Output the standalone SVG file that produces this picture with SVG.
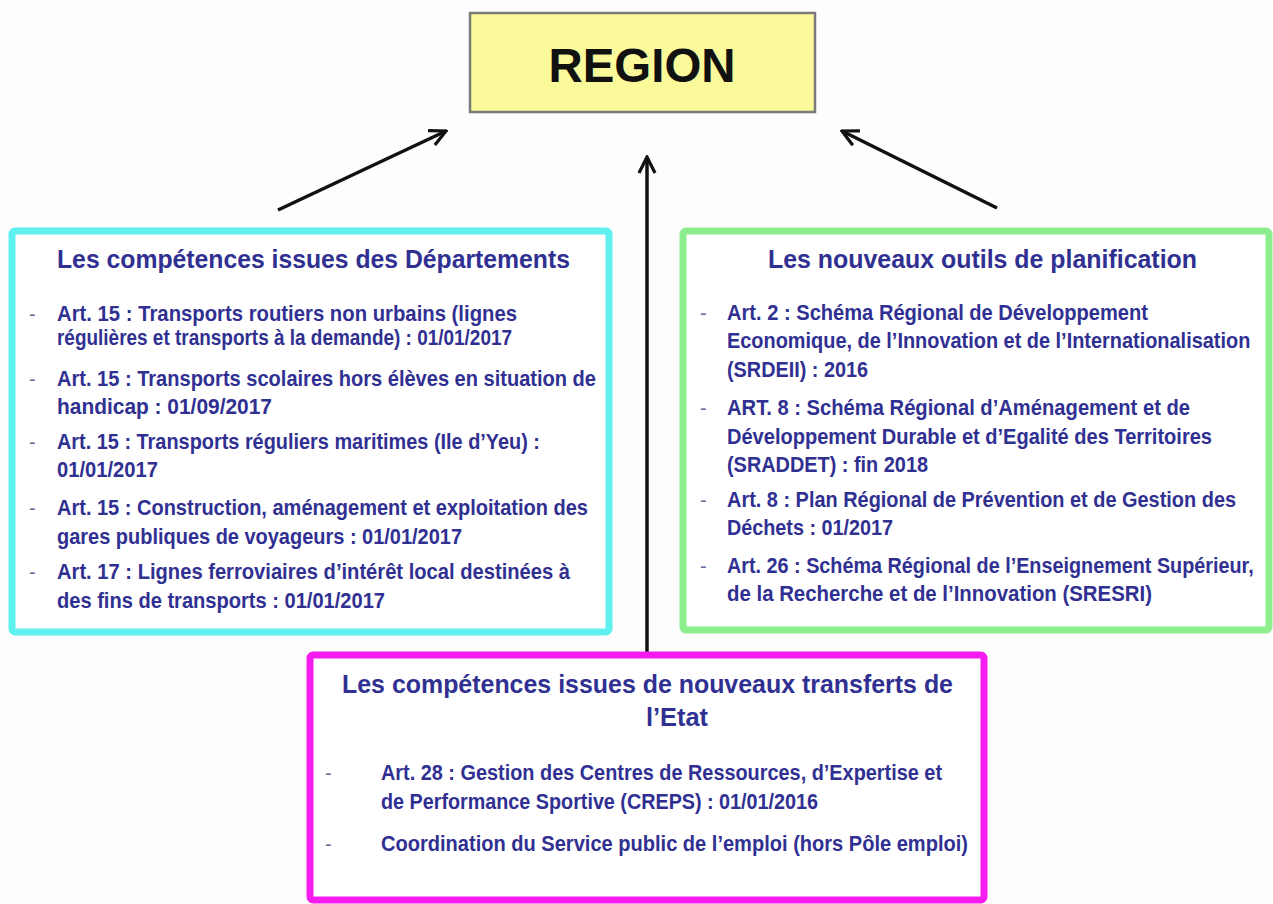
<svg xmlns="http://www.w3.org/2000/svg" width="1273" height="904" viewBox="0 0 1273 904">
<style>
.t{font-family:"Liberation Sans",Arial,sans-serif;font-size:26px;font-weight:bold;fill:#303092;}
.b{font-family:"Liberation Sans",Arial,sans-serif;font-size:22.5px;font-weight:bold;fill:#303092;}
.d{font-family:"Liberation Sans",Arial,sans-serif;font-size:20px;fill:#6a6a9a;}
.conn{stroke:#111;stroke-width:3.5;fill:none;}
</style>
<defs>
<marker id="ah" viewBox="0 0 12 12" refX="11" refY="6" markerWidth="5.5" markerHeight="5.5" orient="auto" markerUnits="strokeWidth">
<path d="M1,1 L11,6 L1,11" fill="none" stroke="#111" stroke-width="2"/>
</marker>
</defs>
<rect width="1273" height="904" fill="#fdfdfd"/>

<g id="connectors">
<line class="conn" x1="278" y1="210" x2="446" y2="131" marker-end="url(#ah)"/>
<line class="conn" x1="647" y1="656" x2="647" y2="157" marker-end="url(#ah)"/>
<line class="conn" x1="997" y1="208" x2="842" y2="131" marker-end="url(#ah)"/>
</g>

<g id="region">
<rect x="470" y="13" width="345" height="99" fill="#fafa9a" stroke="#7a7a7a" stroke-width="2.5"/>
<text x="642" y="82" text-anchor="middle" font-family="Liberation Sans,Arial,sans-serif" font-size="48" font-weight="bold" fill="#111" textLength="187" lengthAdjust="spacingAndGlyphs">REGION</text>
</g>

<g id="departements">
<rect x="12" y="231" width="597" height="401" rx="3" fill="#fff" stroke="#5ff0f0" stroke-width="7"/>
<text class="t" x="57" y="268" textLength="513" lengthAdjust="spacingAndGlyphs">Les compétences issues des Départements</text>
<text class="d" x="29" y="321">-</text>
<text class="b" x="57" y="321" textLength="460" lengthAdjust="spacingAndGlyphs">Art. 15 : Transports routiers non urbains (lignes</text>
<text class="b" x="57" y="345" textLength="455" lengthAdjust="spacingAndGlyphs">régulières et transports à la demande) : 01/01/2017</text>
<text class="d" x="29" y="386">-</text>
<text class="b" x="57" y="386" textLength="539" lengthAdjust="spacingAndGlyphs">Art. 15 : Transports scolaires hors élèves en situation de</text>
<text class="b" x="57" y="414" textLength="215" lengthAdjust="spacingAndGlyphs">handicap : 01/09/2017</text>
<text class="d" x="29" y="449">-</text>
<text class="b" x="57" y="449" textLength="483" lengthAdjust="spacingAndGlyphs">Art. 15 : Transports réguliers maritimes (Ile d’Yeu) :</text>
<text class="b" x="57" y="477" textLength="101" lengthAdjust="spacingAndGlyphs">01/01/2017</text>
<text class="d" x="29" y="515">-</text>
<text class="b" x="57" y="515" textLength="531" lengthAdjust="spacingAndGlyphs">Art. 15 : Construction, aménagement et exploitation des</text>
<text class="b" x="57" y="544" textLength="405" lengthAdjust="spacingAndGlyphs">gares publiques de voyageurs : 01/01/2017</text>
<text class="d" x="29" y="579">-</text>
<text class="b" x="57" y="579" textLength="513" lengthAdjust="spacingAndGlyphs">Art. 17 : Lignes ferroviaires d’intérêt local destinées à</text>
<text class="b" x="57" y="608" textLength="328" lengthAdjust="spacingAndGlyphs">des fins de transports : 01/01/2017</text>
</g>

<g id="planification">
<rect x="683" y="231" width="586" height="399" rx="3" fill="#fff" stroke="#8cee8c" stroke-width="7"/>
<text class="t" x="768" y="268" textLength="429" lengthAdjust="spacingAndGlyphs">Les nouveaux outils de planification</text>
<text class="d" x="700" y="320">-</text>
<text class="b" x="727" y="320" textLength="421" lengthAdjust="spacingAndGlyphs">Art. 2 : Schéma Régional de Développement</text>
<text class="b" transform="translate(727,348) scale(0.84,1)" x="0" y="0" textLength="623" lengthAdjust="spacingAndGlyphs">Economique, de l’Innovation et de l’Internationalisation</text>
<text class="b" x="727" y="377" textLength="141" lengthAdjust="spacingAndGlyphs">(SRDEII) : 2016</text>
<text class="d" x="700" y="415">-</text>
<text class="b" x="727" y="415" textLength="463" lengthAdjust="spacingAndGlyphs">ART. 8 :  Schéma Régional d’Aménagement et de</text>
<text class="b" x="727" y="444" textLength="485" lengthAdjust="spacingAndGlyphs">Développement Durable et d’Egalité des Territoires</text>
<text class="b" x="727" y="472" textLength="201" lengthAdjust="spacingAndGlyphs">(SRADDET) :  fin 2018</text>
<text class="d" x="700" y="507">-</text>
<text class="b" transform="translate(727,507) scale(0.84,1)" x="0" y="0" textLength="606" lengthAdjust="spacingAndGlyphs">Art. 8 : Plan Régional de Prévention et de Gestion des</text>
<text class="b" x="727" y="535" textLength="166" lengthAdjust="spacingAndGlyphs">Déchets :  01/2017</text>
<text class="d" x="700" y="573">-</text>
<text class="b" transform="translate(727,573) scale(0.84,1)" x="0" y="0" textLength="627" lengthAdjust="spacingAndGlyphs">Art. 26 : Schéma Régional de l’Enseignement Supérieur,</text>
<text class="b" x="727" y="601" textLength="425" lengthAdjust="spacingAndGlyphs">de la Recherche et de l’Innovation (SRESRI)</text>
</g>

<g id="etat">
<rect x="310" y="655" width="674" height="245" rx="3" fill="#fff" stroke="#f51cf0" stroke-width="7"/>
<text class="t" x="342" y="693" textLength="611" lengthAdjust="spacingAndGlyphs">Les compétences issues de nouveaux transferts de</text>
<text class="t" x="646" y="726" textLength="62" lengthAdjust="spacingAndGlyphs">l’Etat</text>
<text class="d" x="325" y="780">-</text>
<text class="b" x="381" y="780" textLength="561" lengthAdjust="spacingAndGlyphs">Art. 28 : Gestion des Centres de Ressources, d’Expertise et</text>
<text class="b" x="381" y="809" textLength="437" lengthAdjust="spacingAndGlyphs">de Performance Sportive (CREPS) : 01/01/2016</text>
<text class="d" x="325" y="851">-</text>
<text class="b" x="381" y="851" textLength="587" lengthAdjust="spacingAndGlyphs">Coordination du Service public de l’emploi (hors Pôle emploi)</text>
</g>
</svg>
